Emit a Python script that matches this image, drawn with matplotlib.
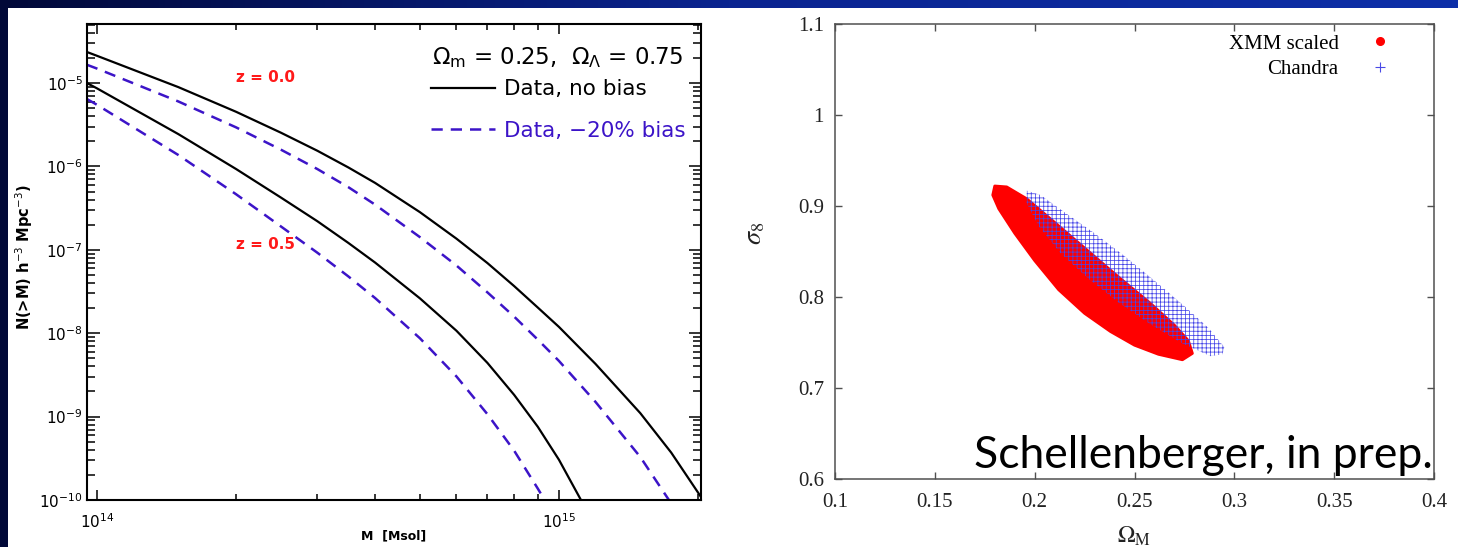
import numpy as np
import matplotlib
matplotlib.use('Agg')
import matplotlib.pyplot as plt
from matplotlib.patches import Rectangle, Polygon
from matplotlib.colors import LinearSegmentedColormap
from matplotlib.lines import Line2D
from matplotlib.ticker import LogLocator, NullFormatter, FixedLocator

# ---- left panel: cumulative cluster mass function N(>M)
m_z0 = [0.951e14, 1e14, 1.5e14, 2e14, 2.5e14, 3e14, 3.5e14, 4e14, 5e14, 6e14,
        7e14, 8e14, 9e14, 1e15, 1.2e15, 1.5e15, 1.75e15, 2e15, 2.05e15]
n_z0 = [2.355e-5, 2.12e-5, 8.93e-6, 4.52e-6, 2.54e-6, 1.54e-6, 9.72e-7, 6.34e-7,
        2.83e-7, 1.36e-7, 6.94e-8, 3.67e-8, 2.03e-8, 1.19e-8, 4.28e-9, 1.10e-9,
        3.70e-10, 1.23e-10, 1e-10]

m_z0_bias = [0.951e14, 1e14, 1.5e14, 2e14, 2.5e14, 3e14, 3.5e14, 4e14, 5e14, 6e14,
             7e14, 8e14, 9e14, 1e15, 1.2e15, 1.5e15, 1.73e15]
n_z0_bias = [1.655e-5, 1.49e-5, 6.01e-6, 2.94e-6, 1.59e-6, 9.29e-7, 5.64e-7, 3.48e-7,
             1.42e-7, 6.48e-8, 3.09e-8, 1.58e-8, 8.37e-9, 4.65e-9, 1.50e-9, 3.28e-10,
             1e-10]

m_z05 = [0.951e14, 1e14, 1.5e14, 2e14, 2.5e14, 3e14, 3.5e14, 4e14, 5e14, 6e14,
         7e14, 8e14, 9e14, 1e15, 1.116e15]
n_z05 = [1.0e-5, 8.63e-6, 2.44e-6, 9.31e-7, 4.24e-7, 2.20e-7, 1.21e-7, 7.03e-8,
         2.62e-8, 1.07e-8, 4.41e-9, 1.82e-9, 7.55e-10, 3.04e-10, 1e-10]

m_z05_bias = [0.951e14, 1e14, 1.5e14, 2e14, 2.5e14, 3e14, 3.5e14, 4e14, 5e14, 6e14,
              7e14, 8e14, 9e14, 9.31e14]
n_z05_bias = [6.43e-6, 5.48e-6, 1.37e-6, 4.64e-7, 1.91e-7, 9.22e-8, 4.80e-8, 2.64e-8,
              8.71e-9, 3.03e-9, 1.07e-9, 3.90e-10, 1.37e-10, 1e-10]

# ---- right panel: Omega_M - sigma_8 constraints (region outlines)
xmm_om = [0.180, 0.186, 0.196, 0.210, 0.226, 0.242, 0.258, 0.270, 0.277, 0.279,
          0.274, 0.262, 0.250, 0.238, 0.225, 0.212, 0.200, 0.190, 0.182, 0.179]
xmm_s8 = [0.922, 0.921, 0.908, 0.882, 0.852, 0.822, 0.793, 0.769, 0.752, 0.738,
          0.731, 0.737, 0.747, 0.762, 0.782, 0.808, 0.840, 0.870, 0.897, 0.912]

cha_om = [0.196, 0.203, 0.215, 0.230, 0.245, 0.260, 0.275, 0.287, 0.295, 0.294,
          0.288, 0.274, 0.258, 0.242, 0.227, 0.213, 0.202, 0.196]
cha_s8 = [0.917, 0.912, 0.893, 0.870, 0.845, 0.818, 0.790, 0.766, 0.745, 0.737,
          0.735, 0.749, 0.770, 0.794, 0.820, 0.848, 0.878, 0.903]

W, H = 1458, 547
plt.rcParams['hatch.linewidth'] = 0.55
fig = plt.figure(figsize=(W / 100, H / 100), dpi=100)

# slide background: dark blue gradient + white content area
bg = fig.add_axes([0, 0, 1, 1], zorder=-10)
cmap_bg = LinearSegmentedColormap.from_list('bg', ['#010838', '#0a2490', '#0d2fa8'])
bg.imshow(np.linspace(0, 1, 256).reshape(1, -1), aspect='auto', cmap=cmap_bg,
          extent=[0, 1, 0, 1])
bg.set_axis_off()
fig.patches.append(Rectangle((8 / W, 0), 1 - 8 / W, 1 - 8 / H, transform=fig.transFigure,
                             facecolor='white', edgecolor='none', zorder=-5))

# ================= left panel =================
ax = fig.add_axes([87 / W, 1 - 500 / H, 614 / W, 476 / H])
blue = '#3c14c8'
l1, = ax.plot(m_z0, n_z0, color='black', lw=1.6)
l2, = ax.plot(m_z0_bias, n_z0_bias, color=blue, lw=1.8, dashes=(4.5, 3.2))
ax.plot(m_z05, n_z05, color='black', lw=1.6)
ax.plot(m_z05_bias, n_z05_bias, color=blue, lw=1.8, dashes=(4.5, 3.2))
ax.set_xscale('log')
ax.set_yscale('log')
ax.set_xlim(9.515e13, 2.03e15)
ax.set_ylim(1e-10, 5.1e-5)

ax.xaxis.set_major_locator(FixedLocator([1e14, 1e15]))
ax.xaxis.set_minor_locator(LogLocator(base=10, subs=np.arange(2, 10), numticks=20))
ax.xaxis.set_minor_formatter(NullFormatter())
ax.yaxis.set_major_locator(LogLocator(base=10, numticks=20))
ax.yaxis.set_minor_locator(LogLocator(base=10, subs=np.arange(2, 10), numticks=20))
ax.yaxis.set_minor_formatter(NullFormatter())
ax.tick_params(which='both', direction='in', top=True, right=True, width=1.1,
               labelsize=11, color='black')
ax.tick_params(axis='y', which='major', length=9, pad=3)
ax.tick_params(axis='y', which='minor', length=5.5)
ax.tick_params(axis='x', which='major', length=7, pad=9)
ax.tick_params(axis='x', which='minor', length=4.5)
for s in ax.spines.values():
    s.set_linewidth(1.5)

ax.set_xlabel('M  [Msol]', fontsize=9, fontweight='bold')
ax.xaxis.set_label_coords(0.5, -0.062)
ax.set_ylabel(r'N(>M) h$^{-3}$ Mpc$^{-3}$)', fontsize=10.5, fontweight='bold')
ax.yaxis.set_label_coords(-0.084, 0.51)

ax.text(2.32e14, 1.15e-5, 'z = 0.0', color='#ff1a1a', fontsize=11,
        fontweight='bold', ha='center', va='center')
ax.text(2.32e14, 1.15e-7, 'z = 0.5', color='#ff1a1a', fontsize=11,
        fontweight='bold', ha='center', va='center')

ax.text(0.971, 0.929, r'$\Omega_\mathrm{m}$ = 0.25,  $\Omega_\Lambda$ = 0.75',
        transform=ax.transAxes, ha='right', va='center', fontsize=16.5)
leg = ax.legend([l1, l2], ['Data, no bias', 'Data, \u221220% bias'],
                loc='upper right', bbox_to_anchor=(0.975, 0.884), frameon=False,
                fontsize=15.5, handlelength=3.0,
                handletextpad=0.4, labelspacing=1.0, borderpad=0, borderaxespad=0)
leg.get_texts()[1].set_color(blue)

# ================= right panel =================
ax2 = fig.add_axes([835 / W, 1 - 479 / H, 599 / W, 455 / H])
serif = 'Liberation Serif'
grey = '#505050'
ax2.add_patch(Polygon(np.column_stack([xmm_om, xmm_s8]), closed=True,
                      facecolor='#ff0000', edgecolor='#ff0000', lw=2,
                      joinstyle='round', zorder=2))
ax2.add_patch(Polygon(np.column_stack([cha_om, cha_s8]), closed=True,
                      facecolor='none', edgecolor='#4646e8', lw=0,
                      hatch='++++', zorder=3))
ax2.set_xlim(0.1, 0.4)
ax2.set_ylim(0.6, 1.1)
ax2.set_xticks([0.1, 0.15, 0.2, 0.25, 0.3, 0.35, 0.4])
ax2.set_xticklabels(['0.1', '0.15', '0.2', '0.25', '0.3', '0.35', '0.4'])
ax2.set_yticks([0.6, 0.7, 0.8, 0.9, 1.0, 1.1])
ax2.set_yticklabels(['0.6', '0.7', '0.8', '0.9', '1', '1.1'])
ax2.tick_params(direction='in', top=True, right=True, length=5, width=1,
                color=grey, labelcolor='#222222', labelsize=15)
ax2.tick_params(axis='x', pad=10)
ax2.tick_params(axis='y', pad=8)
for lab in ax2.get_xticklabels() + ax2.get_yticklabels():
    lab.set_fontfamily(serif)
for s in ax2.spines.values():
    s.set_color(grey)
    s.set_linewidth(1.1)

ax2.set_xlabel(r'$\Omega_{\rm M}$', fontsize=17, math_fontfamily='stix', color='#222222')
ax2.xaxis.set_label_coords(0.5, -0.1)
ax2.set_ylabel(r'$\sigma_8$', fontsize=19, math_fontfamily='stix', color='#222222')
ax2.yaxis.set_label_coords(-0.113, 0.54)

h_xmm = Line2D([], [], ls='none', marker='o', ms=5.5, color='#ff0000')
h_cha = Line2D([], [], ls='none', marker='+', ms=7, mew=0.8, color='#4a4ae6')
ax2.legend([h_xmm, h_cha], ['XMM scaled', 'Chandra'], loc='upper right',
           bbox_to_anchor=(0.945, 0.978), markerfirst=False, frameon=False,
           prop={'family': serif, 'size': 15}, handlelength=2.0,
           handletextpad=1.0, labelspacing=0.3, borderpad=0, borderaxespad=0)

fig.text(1433 / W, 1 - 468 / H, 'Schellenberger, in prep.', ha='right',
         va='baseline', fontsize=32, family='Lato', color='black')

fig.savefig('out.png', dpi=100, facecolor=fig.get_facecolor())
